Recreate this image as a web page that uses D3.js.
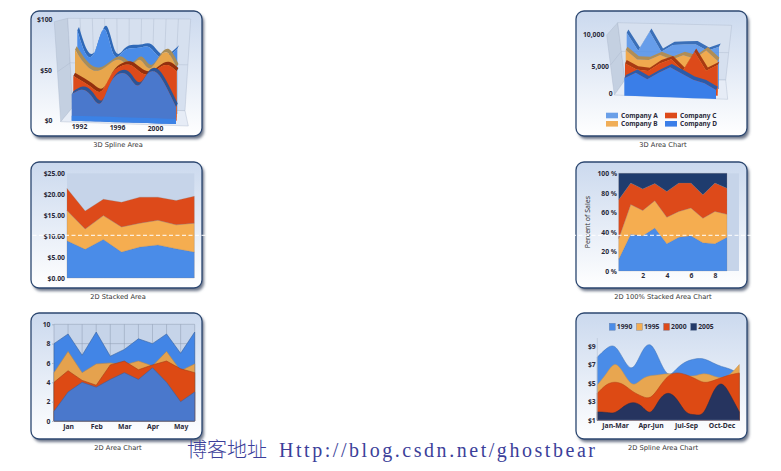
<!DOCTYPE html>
<html>
<head>
<meta charset="utf-8">
<script src="https://cdn.jsdelivr.net/npm/d3@7"></script>
<style>
html, body { margin: 0; padding: 0; background: #fff; overflow: hidden; }
svg { display: block; }
text { font-family: "Noto Sans", sans-serif; fill: #222; }
.caption { font-family: "DejaVu Sans", sans-serif; font-size: 6.7px; fill: #333; text-anchor: middle; }
.lbl { font-size: 6.8px; font-weight: bold; fill: #2a2a3a; }
.axis text { font-size: 6.8px; font-weight: bold; fill: #2a2a3a; font-family: "Noto Sans", sans-serif; }
.axis .domain { display: none; }
.axis line { stroke: #8c9ab0; stroke-width: 0.6; }
</style>
</head>
<body>
<div id="chart"></div>
<script>
// 3D Spline Area
var splineYears = [1991,1992,1993,1994,1995,1996,1997,1998,1999,2000,2001,2002];
var spline3dA = [80,56,61,82,57,60,64,65,65,56,57,65];
var spline3dB = [64,51,44,46,53,55,50,56,48,58,64,50];
var spline3dC = [41,36,30,27,43,52,54,48,45,51,55,49];
var spline3dD = [26,31,26,18,37,48,46,37,49,50,36,17];
var spline3dTicks = [0,50,100];
var spline3dYearTicks = [1992,1996,2000];

// 3D Area Chart
var area3dIndex = [0,1,2,3,4,5,6,7,8];
var area3dA = [8830,5890,9140,5880,7060,7220,7310,6320,7060];
var area3dB = [6500,5000,4970,5880,5220,6000,5530,6930,5220];
var area3dC = [4830,3890,3690,5040,5780,3940,7190,4100,5110];
var area3dD = [2890,3890,2860,4040,5000,4060,3080,2540,1500];
var area3dNames = ["Company A","Company B","Company C","Company D"];

// 2D Stacked Area
var stackedIndex = [0,1,2,3,4,5,6,7];
var stackedBlue = [8.9,6.85,9.2,6.2,7.4,7.9,7.0,6.2];
var stackedOrange = [7.2,4.85,5.7,6.0,5.7,5.9,5.7,6.9];
var stackedRed = [5.3,4.3,3.9,5.9,6.2,5.5,5.8,6.4];
var stackedTicks = [0,5,10,15,20,25];

// 2D 100% Stacked Area
var pctIndex = [0,1,2,3,4,5,6,7,8,9];
var pctBlue = [12,37.5,36,44,28,34.5,36,29,28,34.5];
var pctOrange = [21,30.5,26,28,27,26.5,28.5,25,33,23.5];
var pctRed = [40,22,22,17.5,26.5,29,25.5,24,29,26.6];
var pctNavy = [27,10,16,10.5,18.5,10,10,22,10,15.4];
var pctTicks = [0,20,40,60,80,100];
var pctXTicks = [2,4,6,8];

// 2D Area Chart
var areaIndex = [0,1,2,3,4,5,6,7,8,9,10];
var areaA = [8,9,6.8,9.2,6.7,7.4,8.5,8,9,7,9.2];
var areaB = [5,7.2,5,5.9,6,5.8,6.2,5.7,7.2,5.2,5.9];
var areaC = [4,5.2,4.2,3.7,5.8,6.2,5.3,5.8,6.2,5.4,5.0];
var areaD = [1,3,4,3.5,4.3,5,4.3,5.5,4,2,3];
var areaTicks = [0,2,4,6,8,10];
var areaMonths = {1:"Jan",3:"Feb",5:"Mar",7:"Apr",9:"May"};

// 2D Spline Area Chart
var spline2dA = [7.8,8.7,8.9,7.5,6.7,8.3,9.1,7.5,6.0,6.6,7.3,7.6,7.6,7.2,6.8,6.5,6.0];
var spline2dB = [4.8,6.0,7.0,6.0,4.9,5.4,5.8,5.9,6.0,5.9,5.8,5.8,6.0,5.8,5.6,6.0,7.0];
var spline2dC = [3.9,4.8,5.1,4.8,4.1,3.6,3.5,4.6,5.75,6.1,5.9,5.5,5.1,5.25,5.6,5.9,6.1];
var spline2dD = [1.9,1.85,1.85,2.5,2.9,2.5,1.9,3.2,3.9,3.2,1.9,1.6,1.9,3.9,4.9,3.7,1.9];
var spline2dTicks = [1,3,5,7,9];
var spline2dQuarters = {2:"Jan-Mar",6:"Apr-Jun",10:"Jul-Sep",14:"Oct-Dec"};
var spline2dYears = ["1990","1995","2000","2005"];

var width = 781, height = 471;
var blue = "#4a8ce8", orange = "#f5ad50", red = "#dd4a1a", navy = "#243a68";

var svg = d3.select("#chart").append("svg").attr("width", width).attr("height", height);
var defs = svg.append("defs");

var grad = defs.append("linearGradient").attr("id", "panelFill").attr("x1", 0).attr("x2", 0).attr("y1", 0).attr("y2", 1);
grad.append("stop").attr("offset", "0%").attr("stop-color", "#cbd9ee");
grad.append("stop").attr("offset", "100%").attr("stop-color", "#ffffff");

var blur = defs.append("filter").attr("id", "shadow").attr("x", "-10%").attr("y", "-10%").attr("width", "120%").attr("height", "125%");
blur.append("feGaussianBlur").attr("stdDeviation", 1.8);

function panel(x, y, h, caption) {
    svg.append("rect").attr("x", x + 2).attr("y", y + 3).attr("width", 171).attr("height", h)
        .attr("rx", 8).attr("fill", "#6a7488").attr("filter", "url(#shadow)");
    svg.append("rect").attr("x", x).attr("y", y).attr("width", 171).attr("height", h)
        .attr("rx", 8).attr("fill", "url(#panelFill)").attr("stroke", "#2c4770").attr("stroke-width", 1.3);
    svg.append("text").attr("class", "caption").attr("x", x + 87).attr("y", y + h + 11).text(caption);
}

function lbl(x, y, s, anchor) {
    svg.append("text").attr("class", "lbl").attr("x", x).attr("y", y)
        .attr("text-anchor", anchor || "end").attr("dy", "0.35em").text(s);
}

// walls and floor of a 3D chart, c holds the corners of the box
function box3d(c, nx) {
    var poly = function (pts, fill) {
        svg.append("polygon").attr("points", pts.map(function (p) { return p.join(","); }).join(" "))
            .attr("fill", fill).attr("stroke", "#a9b6c9").attr("stroke-width", 0.4);
    };
    poly([c.flt, c.blt, c.blb, c.flb], "#c4d0e1");
    poly([c.blt, c.brt, c.brb, c.blb], "#d6e0ef");
    poly([c.flb, c.blb, c.brb, c.frb], "#e6ecf6");
    var mix = function (a, b, t) { return [a[0] + (b[0] - a[0]) * t, a[1] + (b[1] - a[1]) * t]; };
    var seg = function (p, q) {
        svg.append("line").attr("x1", p[0]).attr("y1", p[1]).attr("x2", q[0]).attr("y2", q[1])
            .attr("stroke", "#a9b6c9").attr("stroke-width", 0.4);
    };
    d3.range(1, nx).forEach(function (i) {
        seg(mix(c.blt, c.brt, i / nx), mix(c.blb, c.brb, i / nx));
    });
    seg(mix(c.blt, c.blb, 0.5), mix(c.brt, c.brb, 0.5));
    seg(mix(c.flt, c.flb, 0.5), mix(c.blt, c.blb, 0.5));
}

// one series of a 3D chart: a front face and a darker band going back
function series3d(o) {
    var x = d3.scaleLinear().domain(d3.extent(o.xs)).range(o.range);
    var v = d3.scaleLinear().domain(o.vDomain).range(o.vRange);
    var skew = d3.scaleLinear().domain(d3.extent(o.xs)).range([0, o.skew]);
    var band = d3.area().curve(o.curve)
        .x0(function (d, i) { return x(o.xs[i]); })
        .x1(function (d, i) { return x(o.xs[i]) + o.dx; })
        .y0(function (d, i) { return v(d) + skew(o.xs[i]) - o.k * o.depth; })
        .y1(function (d, i) { return v(d) + skew(o.xs[i]) - o.k * o.depth - o.depth; });
    var face = d3.area().curve(o.curve)
        .x(function (d, i) { return x(o.xs[i]); })
        .y0(function (d, i) { return v(o.low || 0) + skew(o.xs[i]) - o.k * o.depth; })
        .y1(function (d, i) { return v(d) + skew(o.xs[i]) - o.k * o.depth; });
    if (o.bandFill) svg.append("path").datum(o.values).attr("d", band).attr("fill", o.bandFill);
    svg.append("path").datum(o.values).attr("d", face).attr("fill", o.fill).attr("fill-opacity", o.opacity || 1);
}

// ---------- 3D Spline Area
panel(31, 11, 125, "3D Spline Area");
box3d({flt:[54.3,21.7], blt:[67.7,18.3], brt:[190.7,19], brb:[185,110.7], blb:[72.7,107.3], flb:[60.7,121.7], frb:[188.3,126]}, 10);
var sp = {xs: splineYears, vDomain: [0,100], vRange: [120.7,20], skew: 3.3, depth: 3.3, dx: 1.7, curve: d3.curveNatural};
[
    {values: spline3dA, k: 3, range: [77.3,177.3], fill: blue, bandFill: "#2f69b8"},
    {values: spline3dB, k: 2, range: [75,176.7], fill: "#e8a64c", bandFill: "#a88c58"},
    {values: spline3dC, k: 1, range: [73.3,176.7], fill: red, bandFill: "#93300e"},
    {values: spline3dD, k: 0, range: [71.7,176], fill: "#4a78cc", bandFill: "#2b5597"}
].forEach(function (s) { series3d(Object.assign({}, sp, s)); });
series3d(Object.assign({}, sp, {values: splineYears.map(function () { return 5; }), k: 0, range: [71.7,176], fill: "#3b82e6", curve: d3.curveLinear}));
var y3s = d3.scaleLinear().domain([0,100]).range([120.5,20]);
spline3dTicks.forEach(function (t) { lbl(t == 50 ? 52 : 52.5, y3s(t) - (t == 50 ? -0.2 : 0), "$" + t); });
var x3s = d3.scaleLinear().domain([1992,2000]).range([79.5,155.5]);
spline3dYearTicks.forEach(function (t, i) { lbl(x3s(t), 126.5 + i, t, "middle"); });

// ---------- 3D Area Chart
panel(576, 11, 125, "3D Area Chart");
box3d({flt:[606.7,35], blt:[617.7,22.7], brt:[731.7,25.3], brb:[725.7,80], blb:[625,80], flb:[614.3,95], frb:[727.7,99.3]}, 1);
var ar = {xs: area3dIndex, vDomain: [0,10000], vRange: [95.7,35.7], skew: 3.3, depth: 3.3, dx: 1.7, curve: d3.curveLinear};
[
    {values: area3dA, k: 3, range: [626.7,719], fill: "#4a8ce8", opacity: 0.8, bandFill: "#3a6fb8"},
    {values: area3dB, k: 2, range: [625.7,717.7], fill: "#f0a94e", bandFill: "#b08d55"},
    {values: area3dC, k: 1, range: [625,717.7], fill: red, bandFill: "#a83a12"},
    {values: area3dD, k: 0, range: [624.3,716], fill: "#3a7ee8", bandFill: "#2c5ba8"}
].forEach(function (s) { series3d(Object.assign({}, ar, s)); });
var y3a = d3.scaleLinear().domain([0,10000]).range([93.5,35]);
lbl(604.3, y3a(10000), "10,000");
lbl(609, y3a(5000) + 2, "5,000");
lbl(612.7, y3a(0), "0");
var legend3d = [
    {x: 606, y: 112.7, text: area3dNames[0], fill: "#6a9fe8"},
    {x: 606, y: 121, text: area3dNames[1], fill: "#f0ae58"},
    {x: 665, y: 112.7, text: area3dNames[2], fill: red},
    {x: 665, y: 121, text: area3dNames[3], fill: "#3a7ee8"}
];
legend3d.forEach(function (l) {
    svg.append("rect").attr("x", l.x).attr("y", l.y).attr("width", 12).attr("height", 5.6).attr("fill", l.fill);
    svg.append("text").attr("class", "lbl").attr("x", l.x + 15).attr("y", l.y + 2.8).attr("dy", "0.35em")
        .style("font-size", "6.5px").text(l.text);
});

// ---------- 2D Stacked Area
panel(31, 162, 126, "2D Stacked Area");
var xStack = d3.scaleLinear().domain([0,7]).range([67,194.3]);
var yStack = d3.scaleLinear().domain([0,25]).range([278,173.3]);
svg.append("rect").attr("x", 67).attr("y", 173.3).attr("width", 127.3).attr("height", 104.7).attr("fill", "#c6d4e9");
var stackRows = stackedIndex.map(function (i) { return {i: i, blue: stackedBlue[i], orange: stackedOrange[i], red: stackedRed[i]}; });
var stackLayers = d3.stack().keys(["blue","orange","red"])(stackRows);
var stackFill = {blue: blue, orange: orange, red: red};
var stackArea = d3.area()
    .x(function (d) { return xStack(d.data.i); })
    .y0(function (d) { return yStack(d[0]); })
    .y1(function (d) { return yStack(d[1]); });
svg.selectAll(".stacked").data(stackLayers).enter().append("path").attr("class", "stacked")
    .attr("d", stackArea).attr("fill", function (d) { return stackFill[d.key]; })
    .attr("stroke", "#8a7a70").attr("stroke-opacity", 0.5).attr("stroke-width", 0.5);
svg.append("g").attr("class", "axis").attr("transform", "translate(67,0)")
    .call(d3.axisLeft(yStack).tickValues(stackedTicks).tickSize(0).tickPadding(2).tickFormat(d3.format("$.2f")));

// ---------- 2D 100% Stacked Area
panel(576, 162, 126, "2D 100% Stacked Area Chart");
var xPct = d3.scaleLinear().domain([0,10]).range([618.7,739]);
var yPct = d3.scaleLinear().domain([0,100]).range([271,173.3]);
svg.append("rect").attr("x", 618.7).attr("y", 173.3).attr("width", 120.3).attr("height", 97.7).attr("fill", "#c6d4e9");
var pctRows = pctIndex.map(function (i) { return {i: i, blue: pctBlue[i], orange: pctOrange[i], red: pctRed[i], navy: pctNavy[i]}; });
var pctLayers = d3.stack().keys(["blue","orange","red","navy"]).offset(d3.stackOffsetExpand)(pctRows);
var pctFill = {blue: blue, orange: orange, red: red, navy: "#1f3c6e"};
var pctArea = d3.area()
    .x(function (d) { return xPct(d.data.i); })
    .y0(function (d) { return yPct(d[0] * 100); })
    .y1(function (d) { return yPct(d[1] * 100); });
svg.selectAll(".pct").data(pctLayers).enter().append("path").attr("class", "pct")
    .attr("d", pctArea).attr("fill", function (d) { return pctFill[d.key]; })
    .attr("stroke", "#8a7a70").attr("stroke-opacity", 0.4).attr("stroke-width", 0.5);
svg.append("g").attr("class", "axis").attr("transform", "translate(618.7,0)")
    .call(d3.axisLeft(yPct).tickValues(pctTicks).tickSize(0).tickPadding(1.7).tickFormat(function (d) { return d + " %"; }));
svg.append("g").attr("class", "axis").attr("transform", "translate(0,271)")
    .call(d3.axisBottom(xPct).tickValues(pctXTicks).tickSize(0).tickPadding(2.5));
svg.append("text").attr("transform", "translate(587.7,222) rotate(-90)").attr("text-anchor", "middle")
    .attr("dy", "0.35em").style("font-size", "7px").style("fill", "#333").text("Percent of Sales");

// ---------- 2D Area Chart
panel(31, 313, 126, "2D Area Chart");
var xArea = d3.scaleLinear().domain([0,10]).range([54,194.7]);
var yArea = d3.scaleLinear().domain([0,10]).range([421,324.3]);
svg.append("rect").attr("x", 54).attr("y", 324.3).attr("width", 140.7).attr("height", 96.7).attr("fill", "#c6d4e9");
svg.selectAll(".vgrid").data(areaIndex).enter().append("line").attr("class", "vgrid")
    .attr("x1", function (d) { return xArea(d); }).attr("x2", function (d) { return xArea(d); })
    .attr("y1", 324.3).attr("y2", 421).attr("stroke", "#8c9ab0").attr("stroke-width", 0.5);
svg.selectAll(".hgrid").data(areaTicks).enter().append("line").attr("class", "hgrid")
    .attr("x1", 54).attr("x2", 194.7)
    .attr("y1", function (d) { return yArea(d); }).attr("y2", function (d) { return yArea(d); })
    .attr("stroke", "#8c9ab0").attr("stroke-width", 0.5);
var areaGen = d3.area()
    .x(function (d, i) { return xArea(i); }).y0(yArea(0)).y1(function (d) { return yArea(d); });
[[areaA, "#4285e6", "#36619f"], [areaB, "#e5a24e", "#b58a50"], [areaC, "#dd4a14", "#a23c18"], [areaD, "#4a78cc", "#3d5f9c"]].forEach(function (s) {
    svg.append("path").datum(s[0]).attr("d", areaGen).attr("fill", s[1]).attr("stroke", s[2]).attr("stroke-width", 0.6);
});
svg.append("g").attr("class", "axis").attr("transform", "translate(54,0)")
    .call(d3.axisLeft(yArea).tickValues(areaTicks).tickSize(2).tickPadding(1.5));
svg.append("g").attr("class", "axis").attr("transform", "translate(0,421)")
    .call(d3.axisBottom(xArea).tickValues([1,3,5,7,9]).tickSize(0).tickPadding(3)
        .tickFormat(function (d) { return areaMonths[d]; }));
svg.append("line").attr("x1", 54).attr("x2", 194.7).attr("y1", 421).attr("y2", 421).attr("stroke", "#5a6e90").attr("stroke-width", 0.6);

// ---------- 2D Spline Area Chart
panel(576, 313, 126, "2D Spline Area Chart");
var xSpl = d3.scaleLinear().domain([0,16]).range([597.3,739.3]);
var ySpl = d3.scaleLinear().domain([1,9]).range([420.3,346]);
var splGen = d3.area().curve(d3.curveNatural)
    .x(function (d, i) { return xSpl(i); }).y0(ySpl(1)).y1(function (d) { return ySpl(d); });
[[spline2dA, blue, "#3c6fb0"], [spline2dB, "#e8a650", "#c19250"], [spline2dC, "#dd4a14", "#b23c14"], [spline2dD, "#26345f", "#1d2a50"]].forEach(function (s) {
    svg.append("path").datum(s[0]).attr("d", splGen).attr("fill", s[1]).attr("stroke", s[2]).attr("stroke-width", 0.5);
});
svg.append("g").attr("class", "axis").attr("transform", "translate(597.3,0)")
    .call(d3.axisLeft(ySpl).tickValues(spline2dTicks).tickSize(0).tickPadding(1.6).tickFormat(function (d) { return "$" + d; }));
svg.append("g").attr("class", "axis").attr("transform", "translate(0,420.3)")
    .call(d3.axisBottom(xSpl).tickValues([2,6,10,14]).tickSize(0).tickPadding(2.5)
        .tickFormat(function (d) { return spline2dQuarters[d]; }));
svg.append("line").attr("x1", 597.3).attr("x2", 597.3).attr("y1", 338).attr("y2", 420.3).attr("stroke", "#b5c0d0").attr("stroke-width", 0.6);
svg.append("line").attr("x1", 597.3).attr("x2", 739.3).attr("y1", 420.3).attr("y2", 420.3).attr("stroke", "#b5c0d0").attr("stroke-width", 0.6);
var legendX = d3.scaleLinear().domain([0,3]).range([609.3,690.7]);
spline2dYears.forEach(function (y, i) {
    svg.append("rect").attr("x", legendX(i)).attr("y", 323.3).attr("width", 6).attr("height", 7)
        .attr("fill", [blue, orange, red, navy][i]).attr("stroke", "#5a6e90").attr("stroke-width", 0.3);
    lbl(legendX(i) + 7.5, 326.8, y, "start");
});

// ---------- dashed white line and watermark
svg.append("line").attr("x1", 0).attr("x2", width).attr("y1", 235.3).attr("y2", 235.3)
    .attr("stroke", "#fff").attr("stroke-width", 1).attr("stroke-dasharray", "4,2.5");

svg.append("text").attr("x", 187).attr("y", 457).style("font-family", '"Noto Sans CJK SC"').style("font-size", "20px")
    .style("font-weight", 300).style("fill", "#3c3f9a").text("博客地址");
svg.append("text").attr("x", 279).attr("y", 457).style("font-family", '"Liberation Serif"').style("font-size", "20px")
    .style("fill", "#3c3f9a").attr("textLength", 316).attr("lengthAdjust", "spacing").text("Http://blog.csdn.net/ghostbear");
</script>
</body>
</html>
